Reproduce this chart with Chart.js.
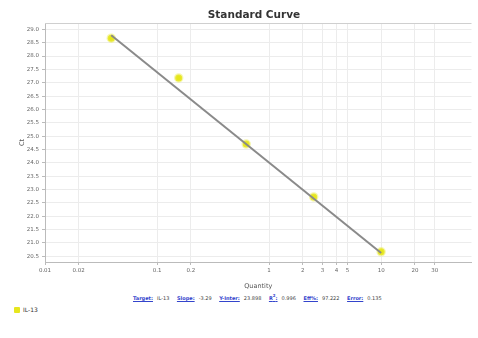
<!DOCTYPE html>
<html>
<head>
<meta charset="utf-8">
<script src="https://cdn.jsdelivr.net/npm/chart.js@4/dist/chart.umd.min.js"></script>
<style>
  html, body { margin: 0; padding: 0; background: #fff; }
  body { width: 478px; height: 338px; position: relative; overflow: hidden; font-family: "DejaVu Sans", Arial, sans-serif; }
  #wrap { position: absolute; left: 0; top: 0; width: 478px; height: 290px; }
  #titulo { position: absolute; left: 154px; width: 200px; top: 8px; text-align: center; font-size: 10.5px; font-weight: bold; color: #333; }
  #stats { position: absolute; left: 133px; top: 293px; font-size: 5px; white-space: nowrap; color: #444; }
  #stats a { color: #3344cc; text-decoration: underline; font-weight: bold; margin-right: 4px; }
  #stats span { margin-right: 6px; }
  #legend { position: absolute; left: 14px; top: 306px; font-size: 6px; color: #333; display: flex; align-items: center; }
  #legend i { display: inline-block; width: 6px; height: 6px; background: #e6e61e; margin-right: 3px; border-radius: 1px; }
</style>
</head>
<body>
<div id="wrap"><canvas id="chartCurve"></canvas></div>
<div id="titulo">Standard Curve</div>
<div id="stats">
  <a>Target:</a><span>IL-13</span>
  <a>Slope:</a><span>-3.29</span>
  <a>Y-Inter:</a><span>23.898</span>
  <a>R<sup style="font-size:4px">2</sup>:</a><span>0.996</span>
  <a>Eff%:</a><span>97.222</span>
  <a>Error:</a><span>0.135</span>
</div>
<div id="legend"><i></i>IL-13</div>
<script>
// ===============================
// DADOS
// ===============================
const quantidades = [0.039, 0.156, 0.625, 2.5, 10];
const ctValores = [28.67, 27.18, 24.70, 22.72, 20.66];

// linha de regressão (extremos)
const linhaX = [0.039, 10];
const linhaY = [28.78, 20.62];

const xTicks = [0.01, 0.02, 0.1, 0.2, 1, 2, 3, 4, 5, 10, 20, 30];
const yTicks = [20.5, 21.0, 21.5, 22.0, 22.5, 23.0, 23.5, 24.0, 24.5,
                25.0, 25.5, 26.0, 26.5, 27.0, 27.5, 28.0, 28.5, 29.0];

const pontos = quantidades.map((q, i) => ({ x: q, y: ctValores[i] }));
const linha = linhaX.map((q, i) => ({ x: q, y: linhaY[i] }));

const gridCor = "#ececec";
const tickFonte = { size: 5.5, family: "DejaVu Sans" };

// borda superior da área do gráfico
const bordaTopo = {
    id: "bordaTopo",
    afterDraw(chart) {
        const { ctx, chartArea } = chart;
        ctx.save();
        ctx.strokeStyle = "#cfcfcf";
        ctx.lineWidth = 1;
        ctx.beginPath();
        ctx.moveTo(chartArea.left, chartArea.top + 0.5);
        ctx.lineTo(chartArea.right, chartArea.top + 0.5);
        ctx.stroke();
        ctx.restore();
    }
};

new Chart(document.getElementById("chartCurve"), {
    type: "scatter",
    data: {
        datasets: [
            {
                label: "Fit",
                data: linha,
                showLine: true,
                borderColor: "#8a8a8a",
                borderWidth: 2,
                pointRadius: 0,
                order: 0
            },
            {
                label: "IL-13",
                data: pontos,
                pointRadius: 3.5,
                pointBackgroundColor: "#e6e61a",
                pointBorderColor: "rgba(235,235,80,0.45)",
                pointBorderWidth: 2.5,
                order: 1
            }
        ]
    },
    plugins: [bordaTopo],
    options: {
        responsive: true,
        maintainAspectRatio: false,
        animation: false,
        layout: { padding: { left: 0, right: 1, top: 23, bottom: 0 } },
        plugins: {
            legend: { display: false },
            tooltip: { enabled: false }
        },
        scales: {
            x: {
                type: "logarithmic",
                min: 0.01,
                max: 64,
                afterBuildTicks: (s) => { s.ticks = xTicks.map(v => ({ value: v })); },
                afterFit: (s) => { s.height = 28; },
                ticks: {
                    autoSkip: false,
                    maxRotation: 0,
                    color: "#666",
                    font: tickFonte,
                    padding: 2,
                    callback: (v) => String(v)
                },
                grid: { color: gridCor, tickLength: 3, tickColor: "#bbb" },
                border: { color: "#bbb" },
                title: {
                    display: true,
                    text: "Quantity",
                    color: "#555",
                    font: { size: 6.5, family: "DejaVu Sans" },
                    padding: { top: 1, bottom: 0 }
                }
            },
            y: {
                min: 20.28,
                max: 29.24,
                afterBuildTicks: (s) => { s.ticks = yTicks.map(v => ({ value: v })); },
                afterFit: (s) => { s.width = 45; },
                ticks: {
                    autoSkip: false,
                    color: "#666",
                    font: tickFonte,
                    padding: 3,
                    callback: (v) => Number(v).toFixed(1)
                },
                grid: { color: gridCor, tickLength: 3, tickColor: "#bbb" },
                border: { color: "#bbb" },
                title: {
                    display: true,
                    text: "Ct",
                    color: "#555",
                    font: { size: 6.5, family: "DejaVu Sans" },
                    padding: { top: 18, bottom: 0 }
                }
            }
        }
    }
});
</script>
</body>
</html>
